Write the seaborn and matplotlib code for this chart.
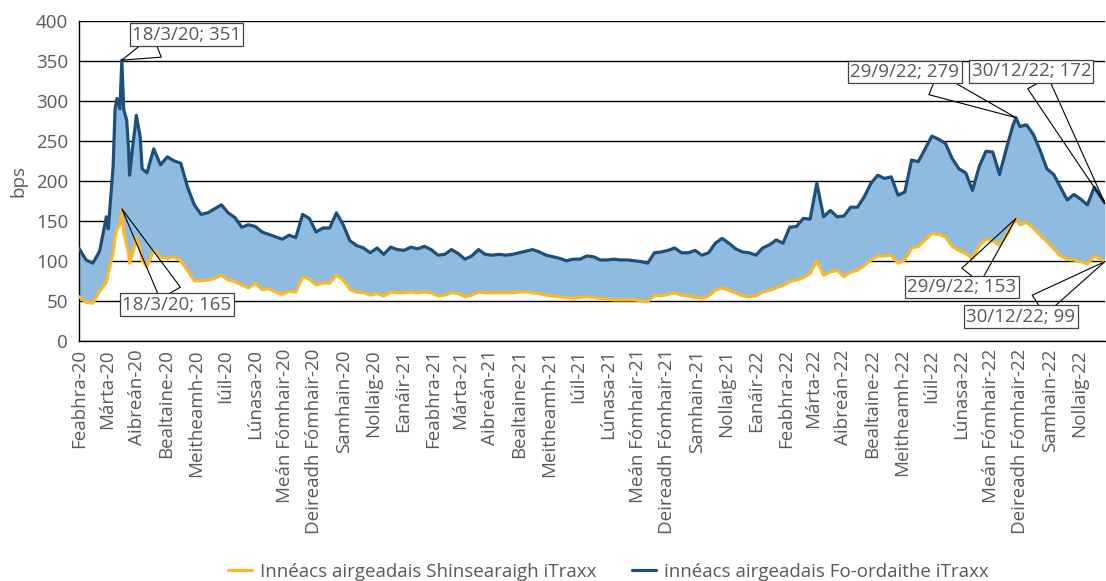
"""
iTraxx financial indices (senior vs subordinated), Feb 2020 - Dec 2022
"""

import numpy as np
import pandas as pd
import matplotlib
matplotlib.use("Agg")
import matplotlib.pyplot as plt
import matplotlib.dates as mdates
import seaborn as sns

# weekly readings (Mondays from 3 Feb 2020 to 19 Dec 2022)
week_start = "2020-02-03"
week_end = "2022-12-19"

sub_weekly = [
    115, 101, 97, 112, 155, 218, 290, 276, 251, 255, 210,
    240, 220, 230, 225, 222, 192, 170, 158, 160, 165,
    170, 160, 154, 142, 145, 143, 136, 133, 130, 127,
    132, 129, 158, 153, 136, 141, 141, 160, 145, 125,
    119, 116, 110, 116, 108, 117, 114, 113, 117, 115,
    118, 114, 107, 108, 114, 109, 102, 106, 114, 108,
    107, 108, 107, 108, 110, 112, 114, 111, 107, 105,
    103, 100, 102, 102, 106, 105, 101, 101, 102, 101,
    101, 100, 99, 97, 110, 111, 113, 116, 110, 110,
    113, 107, 110, 122, 128, 122, 115, 111, 110, 107,
    116, 120, 126, 122, 142, 143, 153, 152, 197, 155,
    163, 155, 156, 167, 167, 180, 197, 207, 203, 205,
    182, 186, 226, 224, 240, 256, 252, 247, 228, 215,
    210, 188, 218, 237, 236, 208, 240, 270, 268, 270,
    258, 238, 215, 208, 192, 176, 183, 177, 170, 192,
]

sen_weekly = [
    55, 48, 47, 62, 73, 110, 145, 120, 113, 113, 93,
    113, 105, 103, 105, 100, 88, 75, 75, 76, 78,
    82, 76, 74, 70, 66, 72, 64, 65, 61, 58,
    62, 61, 80, 77, 70, 72, 72, 82, 76, 64,
    61, 60, 57, 59, 56, 61, 60, 60, 61, 60,
    61, 60, 56, 57, 60, 59, 55, 57, 61, 60,
    60, 60, 60, 60, 61, 61, 60, 59, 57, 56,
    55, 54, 53, 54, 55, 54, 53, 52, 51, 51,
    51, 51, 50, 49, 57, 56, 58, 60, 57, 56,
    54, 53, 56, 63, 66, 63, 60, 56, 55, 56,
    61, 63, 66, 69, 74, 76, 79, 84, 100, 82,
    86, 88, 80, 86, 88, 94, 101, 106, 106, 107,
    97, 101, 116, 118, 126, 134, 133, 130, 118, 113,
    109, 103, 119, 127, 125, 119, 131, 148, 145, 148,
    141, 132, 124, 115, 106, 102, 101, 99, 96, 106,
]

# extra daily readings around the spikes and the labelled points
extra_dates = ["2020-03-04", "2020-03-11", "2020-03-13", "2020-03-18",
               "2020-03-20", "2020-03-25", "2020-03-26", "2020-04-01",
               "2020-04-02", "2020-04-08", "2022-09-29", "2022-12-30"]
extra_sub = [140, 290, 303, 351, 289, 240, 207, 270, 282, 215, 279, 172]
extra_sen = [85, 130, 140, 165, 135, 110, 97, 122, 130, 100, 153, 99]

month_names = ["Eanáir", "Feabhra", "Márta", "Aibreán", "Bealtaine",
               "Meitheamh", "Iúil", "Lúnasa", "Meán Fómhair",
               "Deireadh Fómhair", "Samhain", "Nollaig"]

label_sen = "Innéacs airgeadais Shinsearaigh iTraxx"
label_sub = "innéacs airgeadais Fo-ordaithe iTraxx"

# (text, point date, point value, text date, text value)
callouts = [
    ("18/3/20; 351", "2020-03-18", 351, "2020-05-24", 383),
    ("18/3/20; 165", "2020-03-18", 165, "2020-05-14", 45),
    ("29/9/22; 279", "2022-09-29", 279, "2022-06-06", 336),
    ("30/12/22; 172", "2022-12-30", 172, "2022-10-15", 337),
    ("29/9/22; 153", "2022-09-29", 153, "2022-08-04", 67),
    ("30/12/22; 99", "2022-12-30", 99, "2022-10-04", 30),
]

COL_SUB = "#1d4f7a"
COL_SEN = "#fbb92a"
COL_FILL = "#8ebbdf"
COL_TEXT = "#595959"
FS = 13.5

# build the table
weekly = pd.DataFrame({
    "date": pd.date_range(week_start, week_end, freq="7D"),
    "sub": sub_weekly,
    "sen": sen_weekly,
})
extra = pd.DataFrame({
    "date": pd.to_datetime(extra_dates),
    "sub": extra_sub,
    "sen": extra_sen,
})
df = pd.concat([weekly, extra]).sort_values("date").reset_index(drop=True)

sns.set_style("white")
plt.rcParams["font.family"] = ["Open Sans", "DejaVu Sans"]
plt.rcParams["font.size"] = FS

fig = plt.figure(figsize=(11.06, 5.81), dpi=100)
ax = fig.add_axes([0.0717, 0.4136, 0.9273, 0.5503])

ax.fill_between(df["date"], df["sen"], df["sub"], color=COL_FILL, lw=0, zorder=1)
sns.lineplot(data=df, x="date", y="sen", color=COL_SEN, lw=2.3,
             label=label_sen, ax=ax, zorder=3)
sns.lineplot(data=df, x="date", y="sub", color=COL_SUB, lw=2.3,
             label=label_sub, ax=ax, zorder=4)

# axes
ax.set_xlim(pd.Timestamp("2020-02-03"), pd.Timestamp("2022-12-30"))
ax.set_ylim(0, 400)
ax.set_yticks(np.arange(0, 401, 50))
ax.grid(axis="y", color="black", lw=1.0, zorder=0)
ax.set_axisbelow(True)

tick_dates = pd.date_range("2020-02-01", "2022-12-01", freq="MS") + pd.Timedelta(days=2)
tick_labels = [f"{month_names[d.month - 1]}-{d.year % 100}" for d in tick_dates]
ax.set_xticks(tick_dates)
ax.set_xticklabels(tick_labels, rotation=90)

for side in ["top", "right"]:
    ax.spines[side].set_visible(False)
for side in ["left", "bottom"]:
    ax.spines[side].set_color("black")
    ax.spines[side].set_linewidth(1.0)

ax.tick_params(axis="x", direction="inout", length=8, width=1, color="#404040",
               labelcolor=COL_TEXT, labelsize=FS, pad=2)
ax.tick_params(axis="y", direction="out", length=5, width=1, color="#404040",
               labelcolor=COL_TEXT, labelsize=FS, pad=3)
ax.set_xlabel("")
ax.set_ylabel("bps", color=COL_TEXT, fontsize=FS, labelpad=6)

# call-out labels
for text, pd_date, pval, td_date, tval in callouts:
    ax.annotate(
        text,
        xy=(mdates.date2num(pd.Timestamp(pd_date)), pval),
        xytext=(mdates.date2num(pd.Timestamp(td_date)), tval),
        ha="center", va="center", color=COL_TEXT, fontsize=FS,
        bbox=dict(boxstyle="square,pad=0.12", fc="white", ec="#404040", lw=0.9),
        arrowprops=dict(arrowstyle="wedge,tail_width=1.25", fc="none",
                        ec="black", lw=0.8, shrinkA=0, shrinkB=0),
        annotation_clip=False, zorder=6,
    )

# legend at the bottom
handles, labels = ax.get_legend_handles_labels()
ax.get_legend().remove()
leg = fig.legend(handles, labels, loc="center", bbox_to_anchor=(0.55, 0.016),
                 ncol=2, frameon=False, fontsize=FS, handlelength=1.3,
                 handletextpad=0.4, columnspacing=1.9)
for t in leg.get_texts():
    t.set_color(COL_TEXT)

fig.savefig("out.png", dpi=100)
plt.close(fig)
